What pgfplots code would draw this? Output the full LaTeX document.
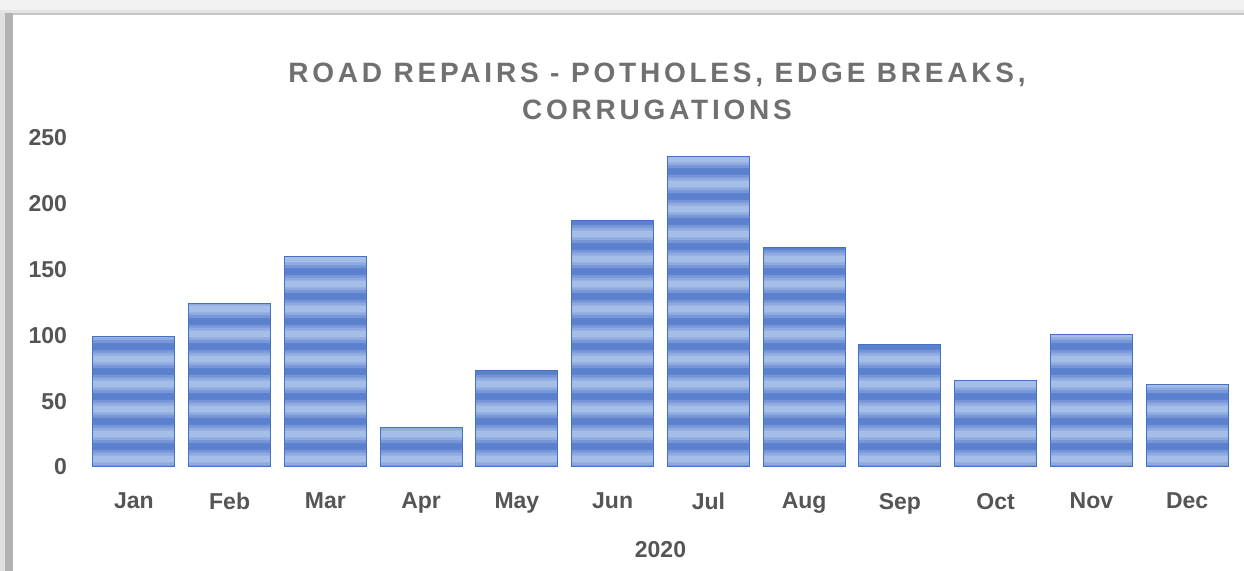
\documentclass[border=0pt]{standalone}
\usepackage{fontspec}
\setmainfont{Liberation Sans}
\usepackage{pgfplots}
\pgfplotsset{compat=1.18}
\usetikzlibrary{patterns.meta}
\definecolor{bardark}{RGB}{90,128,206}
\definecolor{barmid}{RGB}{118,150,215}
\definecolor{barmid2}{RGB}{142,170,224}
\definecolor{barlight}{RGB}{165,190,232}
\definecolor{baredge}{RGB}{70,114,196}
\definecolor{ticktext}{RGB}{85,85,85}
\definecolor{titletext}{RGB}{112,112,112}
\tikzdeclarepattern{
  name=softstripes, type=colored,
  bottom left={(0pt,0pt)}, top right={(800pt,12.5pt)},
  tile size={(800pt,12.5pt)},
  code={
    \fill[barmid] (0pt,1.5pt) rectangle (800pt,11pt);
    \fill[barmid2] (0pt,3pt) rectangle (800pt,9.5pt);
    \fill[barlight] (0pt,4.5pt) rectangle (800pt,8pt);
  }
}
\begin{document}
\begin{tikzpicture}
\clip (0,0) rectangle (622pt,285.5pt);
\fill[white] (0,0) rectangle (622pt,285.5pt);
% frame shadow
\fill[gray!10] (0,285.5pt) rectangle (622pt,279pt);
\fill[gray!22] (0,280.5pt) rectangle (622pt,278.5pt);
\fill[gray!45] (0,279pt) rectangle (622pt,277.8pt);
\fill[gray!25] (0,0) rectangle (3pt,279pt);
\fill[gray!60] (2.5pt,0) rectangle (6.5pt,279pt);
\fill[white] (6.5pt,0) rectangle (622pt,277.8pt);
\begin{axis}[
  at={(43pt,52pt)}, anchor=south west,
  scale only axis,
  width=574.5pt, height=164.5pt,
  xmin=-0.5, xmax=11.5, ymin=0, ymax=250,
  axis line style={draw=none},
  major tick length=0pt,
  xtick={0,...,11},
  xticklabels={Jan,Feb,Mar,Apr,May,Jun,Jul,Aug,Sep,Oct,Nov,Dec},
  ytick={0,50,100,150,200,250},
  /pgf/number format/assume math mode=true,
  tick label style={font=\fontsize{11.5}{13}\selectfont\bfseries, text=ticktext},
  yticklabel style={anchor=east, xshift=-6pt},
  xticklabel style={anchor=north, yshift=-9.5pt},
  xlabel={2020},
  xlabel style={font=\fontsize{11.5}{13}\selectfont\bfseries, text=ticktext, yshift=-7pt},
  clip=false,
]
\addplot[ybar, bar width=0.857, fill=bardark, draw=baredge, line width=0.5pt,
  postaction={pattern=softstripes}]
coordinates {(0,99) (1,124) (2,160) (3,30) (4,73) (5,187) (6,236) (7,167) (8,93) (9,66) (10,101) (11,63)};
\end{axis}
\node[font=\fontsize{14}{18.5}\selectfont\bfseries\addfontfeatures{LetterSpace=13.5}, text=titletext, align=center] at (328.5pt,240pt) {ROAD REPAIRS - POTHOLES, EDGE BREAKS,\\CORRUGATIONS};
\end{tikzpicture}
\end{document}
